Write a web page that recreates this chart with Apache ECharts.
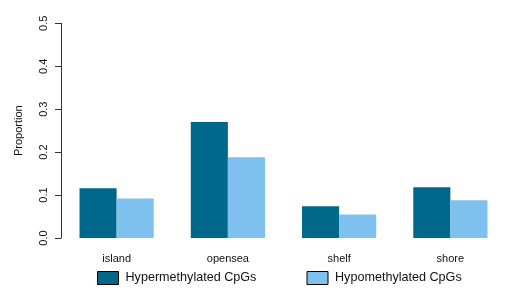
<!DOCTYPE html>
<html>
<head>
<meta charset="utf-8">
<script src="https://cdn.jsdelivr.net/npm/echarts@6/dist/echarts.min.js"></script>
<style>html,body{margin:0;padding:0;background:#fff}#c{width:517px;height:293px}</style>
</head>
<body>
<div id="c"></div>
<script>
var categories = ['island', 'opensea', 'shelf', 'shore'];
var hyper = [0.116, 0.270, 0.074, 0.118];
var hypo = [0.092, 0.188, 0.055, 0.088];
var seriesNames = ['Hypermethylated CpGs', 'Hypomethylated CpGs'];
var yTicks = [0.0, 0.1, 0.2, 0.3, 0.4, 0.5];

var chart = echarts.init(document.getElementById('c'), null, {renderer: 'canvas'});
var font = 'Liberation Sans, Arial, Helvetica, sans-serif';
var legendText = {fontFamily: font, fontSize: 12.6, color: '#111', padding: [0, 0, 0, 2]};
chart.setOption({
  animation: false,
  backgroundColor: '#fff',
  grid: {left: 61, top: 23.3, width: 445, height: 214.7, containLabel: false},
  legend: [{
    data: [seriesNames[0]], left: 97, top: 271, padding: 0, itemWidth: 21, itemHeight: 13,
    icon: 'rect', textStyle: legendText, itemStyle: {borderColor: '#000', borderWidth: 1}
  }, {
    data: [seriesNames[1]], left: 306.5, top: 271, padding: 0, itemWidth: 21, itemHeight: 13,
    icon: 'rect', textStyle: legendText, itemStyle: {borderColor: '#000', borderWidth: 1}
  }],
  xAxis: {
    type: 'category', data: categories,
    axisLine: {show: false}, axisTick: {show: false},
    axisLabel: {fontFamily: font, fontSize: 11, color: '#111', margin: 15}
  },
  yAxis: {
    type: 'value', min: yTicks[0], max: yTicks[yTicks.length - 1], interval: 0.1,
    name: 'Proportion', nameLocation: 'middle', nameGap: 37, nameRotate: 90,
    nameTextStyle: {fontFamily: font, fontSize: 11, color: '#111'},
    axisLine: {show: true, lineStyle: {color: '#333', width: 1}},
    axisTick: {show: true, length: 6, lineStyle: {color: '#333'}},
    splitLine: {show: false},
    axisLabel: {fontFamily: font, fontSize: 11, color: '#111', rotate: 90, margin: 12,
      formatter: function (v) { return v.toFixed(1); }}
  },
  series: [{
    name: seriesNames[0], type: 'bar', data: hyper, barGap: '0%', barCategoryGap: '33.3%',
    itemStyle: {color: '#00688B', borderWidth: 0},
    emphasis: {disabled: true}
  }, {
    name: seriesNames[1], type: 'bar', data: hypo,
    itemStyle: {color: '#7EC0EE', borderWidth: 0},
    emphasis: {disabled: true}
  }]
});
</script>
</body>
</html>
